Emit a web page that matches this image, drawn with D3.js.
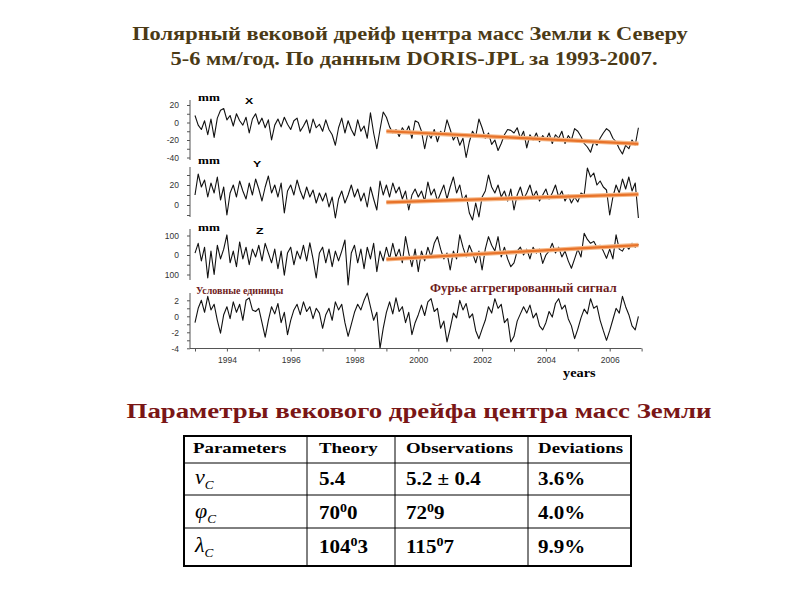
<!DOCTYPE html>
<html>
<head>
<meta charset="utf-8">
<script src="https://cdn.jsdelivr.net/npm/d3@7"></script>
<style>
  body { margin: 0; background: #fff; }
</style>
</head>
<body>
<div id="chart"></div>
<script>
// time grid, one value every 0.1 year
var years = d3.range(140).map(function(i){ return 1993 + i * 0.1; });

// X component, mm
var seriesX = [8,-3,-8,2,-14,4,-17,5,14,16,
  3,8,-4,10,2,-3,6,-12,4,10,
  -2,5,-6,3,-20,-3,4,-5,6,-2,
  -8,2,5,-10,-4,3,-12,4,-6,-2,
  -10,3,-8,-14,-26,-6,5,-12,2,-8,
  -15,3,-10,-4,-18,11,-12,-30,-8,12,
  6,-5,-12,-8,-16,-6,-12,-4,-18,2,
  0,-10,-30,-12,-18,-8,-22,-10,-14,3,
  -8,-20,-14,-26,-18,-40,-22,-10,-16,4,
  -6,-18,-12,-25,-20,-32,-24,-14,-8,-9,
  -12,-6,-18,-10,-29,-14,-20,-12,-22,-15,
  -20,-12,-24,-14,-18,-10,-24,-15,-20,-7,
  -10,-16,-24,-28,-34,-22,-26,-18,-12,-7,
  -10,-18,-22,-30,-36,-26,-30,-20,-26,-6];

// Y component, mm
var seriesY = [10,31,18,25,8,22,12,28,5,18,
  -10,12,20,8,24,14,6,22,10,26,
  16,4,18,29,12,20,8,22,-8,14,
  20,10,25,14,6,18,8,15,2,12,
  4,12,-2,8,-13,6,14,2,10,20,
  8,16,4,12,-2,18,6,-5,24,10,
  20,8,22,12,18,6,14,-5,10,16,
  8,14,4,23,10,16,4,12,20,6,
  18,28,12,20,4,10,-8,-15,2,-12,
  8,14,30,18,12,20,8,14,4,16,
  -5,10,18,6,12,20,8,14,4,10,
  16,6,12,20,8,14,4,10,2,8,
  3,12,10,37,28,32,20,24,18,15,
  -10,8,20,12,26,16,28,14,22,-13];

// Z component, mm
var seriesZ = [10,60,-30,40,-118,20,-100,50,-20,30,
  103,-40,20,-60,67,-20,40,-50,30,-10,
  50,-30,60,10,-40,30,-70,20,-103,10,
  40,-50,20,-20,50,-30,62,-20,-118,10,
  40,-40,30,-60,20,-30,20,77,-154,10,
  50,-40,30,-70,40,-20,60,-85,20,-30,
  40,-20,60,-10,30,-40,94,10,-60,30,
  -85,20,-30,40,-10,60,94,30,-20,10,
  -77,20,-20,103,40,-10,50,10,-40,20,
  -77,30,94,50,20,94,-10,40,-20,-60,
  -40,20,40,0,30,-20,40,10,30,-43,
  0,20,60,10,40,-10,20,-30,-68,-20,
  30,-10,111,80,60,70,40,50,20,-17,
  30,-20,103,30,20,50,30,60,40,55];

// Fourier aggregated signal, arbitrary units
var seriesF = [-0.8,1.0,2.0,0.5,2.5,0.8,1.5,-0.5,-2.1,0.2,
  1.2,-0.3,1.8,0.5,1.5,-0.5,2.0,2.3,0.8,0.6,
  1.0,-0.8,-2.6,-0.5,1.2,0.3,1.6,-0.8,0.5,-2.3,
  -0.5,0.8,1.5,0.2,1.8,0.6,1.2,-0.3,1.0,0.4,
  -1.5,0.2,1.0,-0.5,1.8,0.8,1.5,-0.8,-2.5,-1.0,
  0.5,1.5,0.8,2.0,2.9,1.2,-0.5,0.5,-4.0,-1.5,
  0.5,1.8,0.3,2.3,0.6,1.2,-0.8,0.5,-2.3,-0.8,
  0.2,1.4,0.1,1.8,2.2,0.6,1.0,-1.5,-0.6,-3.2,
  -1.5,0.4,-0.2,2.0,0.8,1.6,-0.2,0.3,-1.8,-2.8,
  -1.6,-0.5,1.2,0.4,2.2,1.0,1.5,-0.8,-0.3,-3.2,
  -2.5,-0.6,0.3,1.2,0.4,1.4,-0.2,0.4,-1.2,-1.7,
  -0.8,0.6,-0.1,1.6,2.2,0.9,1.4,-0.3,-1.2,-2.8,
  -1.6,-0.2,0.9,0.3,2.2,1.0,1.3,-0.5,-1.8,-3.0,
  -1.8,-0.4,1.0,0.4,2.5,1.2,0.2,-1.2,-1.7,0.0];

// linear trends 1999-2007 (orange lines)
var trendYears = [1999.0, 2006.9];
var trendX = [-10, -24.4];
var trendY = [2.7, 10.7];
var trendZ = [-22, 51];

var xTicks = d3.range(1993, 2008);
var xLabelYears = [1994, 1996, 1998, 2000, 2002, 2004, 2006];

// table
var tableHeader = ["Parameters", "Theory", "Observations", "Deviations"];
var paramSymbols = ["v", "\u03c6", "\u03bb"];
var theoryVals = ["5.4", "70\u20700", "104\u20703"];
var obsVals = ["5.2 \u00b1 0.4", "72\u20709", "115\u20707"];
var devVals = ["3.6%", "4.0%", "9.9%"];

var W = 800, H = 600;
var serif = "'Liberation Serif', 'Times New Roman', serif";
var sans = "'Liberation Sans', Arial, sans-serif";
var stretch = 1.18; // slide text is a bit wider than normal

var svg = d3.select("#chart").append("svg")
    .attr("width", W)
    .attr("height", H);

svg.append("rect").attr("width", W).attr("height", H).attr("fill", "#fff");

function stext(g, x, y, str, size, opts){
    opts = opts || {};
    var anchor = opts.anchor || "start";
    var t = g.append("text")
        .attr("transform", "translate(" + x + "," + y + ") scale(" + (opts.sx || stretch) + ",1)")
        .attr("text-anchor", anchor)
        .attr("font-family", opts.family || serif)
        .attr("font-size", size)
        .attr("font-weight", opts.weight || "bold")
        .attr("font-style", opts.style || "normal")
        .attr("fill", opts.color || "#000")
        .text(str);
    return t;
}

// titles
var titleColor = "#4b3a16";
stext(svg, 410, 40, "Полярный вековой дрейф центра масс Земли к Северу", 19, {anchor: "middle", color: titleColor});
stext(svg, 414, 65, "5-6 мм/год. По данным DORIS-JPL за 1993-2007.", 19, {anchor: "middle", color: titleColor});

// ---- stacked time series ----
var x = d3.scaleLinear().domain([1993, 2007]).range([195, 641.6]);

var panels = [
    {data: seriesX, trend: trendX, domain: [-40, 20], range: [157.5, 105], ticks: d3.range(-40, 21, 10),
     labels: [20, 0, -20, -40], axisTop: 100, axisBot: 160, unit: "mm", name: "X", nameX: 245, labelY: 101},
    {data: seriesY, trend: trendY, domain: [0, 20], range: [205, 185], ticks: d3.range(-10, 31, 10),
     labels: [20, 0], axisTop: 167, axisBot: 217, unit: "mm", name: "Y", nameX: 253, labelY: 164},
    {data: seriesZ, trend: trendZ, domain: [-100, 100], range: [274.5, 235.5], ticks: d3.range(-100, 101, 50),
     labels: [100, 0, -100], axisTop: 229, axisBot: 280, unit: "mm", name: "Z", nameX: 256, labelY: 231},
    {data: seriesF, trend: null, domain: [-4, 2], range: [348.3, 300.3], ticks: d3.range(-4, 3, 1),
     labels: [2, 0, -2, -4], axisTop: 293, axisBot: 348.3, unit: null}
];

var plot = svg.append("g");

panels.forEach(function(p){
    var y = d3.scaleLinear().domain(p.domain).range(p.range);
    var g = plot.append("g");

    // left axis
    var ax = d3.axisLeft(y)
        .tickValues(p.ticks)
        .tickSize(3)
        .tickPadding(8)
        .tickFormat(function(d){ return p.labels.indexOf(d) >= 0 ? Math.abs(d) === 100 ? "100" : d : ""; });
    var axg = g.append("g").attr("transform", "translate(190,0)").call(ax);
    axg.select(".domain").remove();
    axg.append("line").attr("x1", 0).attr("x2", 0)
        .attr("y1", p.axisTop).attr("y2", p.axisBot)
        .attr("stroke", "#555").attr("stroke-width", 1);
    axg.selectAll(".tick line").attr("stroke", "#555");
    axg.selectAll(".tick text").attr("font-family", sans).attr("font-size", 8.5).attr("fill", "#333");

    var line = d3.line()
        .x(function(d, i){ return x(years[i]); })
        .y(function(d){ return y(d); });
    g.append("path")
        .datum(p.data)
        .attr("d", line)
        .attr("fill", "none")
        .attr("stroke", "#111")
        .attr("stroke-width", 1.1)
        .attr("stroke-linejoin", "round");

    if (p.trend) {
        var tl = d3.line()
            .x(function(d, i){ return x(trendYears[i]); })
            .y(function(d){ return y(d); });
        g.append("path").datum(p.trend).attr("d", tl)
            .attr("stroke", "#f6b98a").attr("stroke-width", 4.5).attr("fill", "none");
        g.append("path").datum(p.trend).attr("d", tl)
            .attr("stroke", "#e8732a").attr("stroke-width", 2.2).attr("fill", "none");
    }

    if (p.unit) {
        stext(g, 198, p.labelY, p.unit, 10.5, {sx: 1.25});
        stext(g, p.nameX, p.labelY + 3, p.name, 9.5, {family: sans, sx: 1.3});
    }
});

stext(plot, 196, 294, "Условные единицы", 10, {color: "#6e1c1c", sx: 1.0});
stext(plot, 430, 292, "Фурье аггрегированный сигнал", 11.5, {color: "#6e1c1c", sx: 1.12});

// bottom axis
var xAxis = d3.axisBottom(x)
    .tickValues(xTicks)
    .tickSize(3)
    .tickPadding(5)
    .tickFormat(function(d){ return xLabelYears.indexOf(d) >= 0 ? d : ""; });
var xg = plot.append("g").attr("transform", "translate(0,348.5)").call(xAxis);
xg.select(".domain").attr("stroke", "#555").attr("d", "M190,0H641.6");
xg.selectAll(".tick line").attr("stroke", "#555");
xg.selectAll(".tick text").attr("font-family", sans).attr("font-size", 8.5).attr("fill", "#333");

stext(plot, 563, 377, "years", 13, {sx: 1.1});

// ---- subtitle ----
stext(svg, 419, 418, "Параметры векового дрейфа центра масс Земли", 22, {anchor: "middle", color: "#7a1616", sx: 1.22});

// ---- table ----
var colX = [184, 307, 395, 528, 631];
var rowY = [436, 463, 495, 528, 566];
var tg = svg.append("g");

tg.selectAll("line.v").data(colX.slice(1, -1)).enter().append("line")
    .attr("x1", function(d){ return d; }).attr("x2", function(d){ return d; })
    .attr("y1", rowY[0]).attr("y2", rowY[4])
    .attr("stroke", "#000").attr("stroke-width", 1);
tg.selectAll("line.h").data(rowY.slice(1, -1)).enter().append("line")
    .attr("x1", colX[0]).attr("x2", colX[4])
    .attr("y1", function(d){ return d; }).attr("y2", function(d){ return d; })
    .attr("stroke", "#000").attr("stroke-width", 1);
tg.append("rect")
    .attr("x", colX[0]).attr("y", rowY[0])
    .attr("width", colX[4] - colX[0]).attr("height", rowY[4] - rowY[0])
    .attr("fill", "none").attr("stroke", "#000").attr("stroke-width", 2);

var textX = [193, 319, 406, 538];
tableHeader.forEach(function(h, i){
    stext(tg, textX[i], 453, h, 15.5, {sx: 1.22});
});

var baseY = [485, 519, 553];

function degText(g, xx, yy, str){
    var parts = str.split("\u2070");
    var t = stext(g, xx, yy, "", 18, {sx: 1.17});
    t.append("tspan").text(parts[0]);
    if (parts.length > 1) {
        t.append("tspan").attr("font-size", 12).attr("dy", -7).text("0");
        t.append("tspan").attr("dy", 7).text(parts[1]);
    }
}

paramSymbols.forEach(function(s, i){
    var t = stext(tg, 195, baseY[i] - 1, "", 20, {weight: "normal", style: "italic", sx: 1.1});
    t.append("tspan").text(s);
    t.append("tspan").attr("font-size", 12).attr("dy", 5).text("C");
    degText(tg, textX[1], baseY[i], theoryVals[i]);
    degText(tg, textX[2], baseY[i], obsVals[i]);
    degText(tg, textX[3], baseY[i], devVals[i]);
});
</script>
</body>
</html>
